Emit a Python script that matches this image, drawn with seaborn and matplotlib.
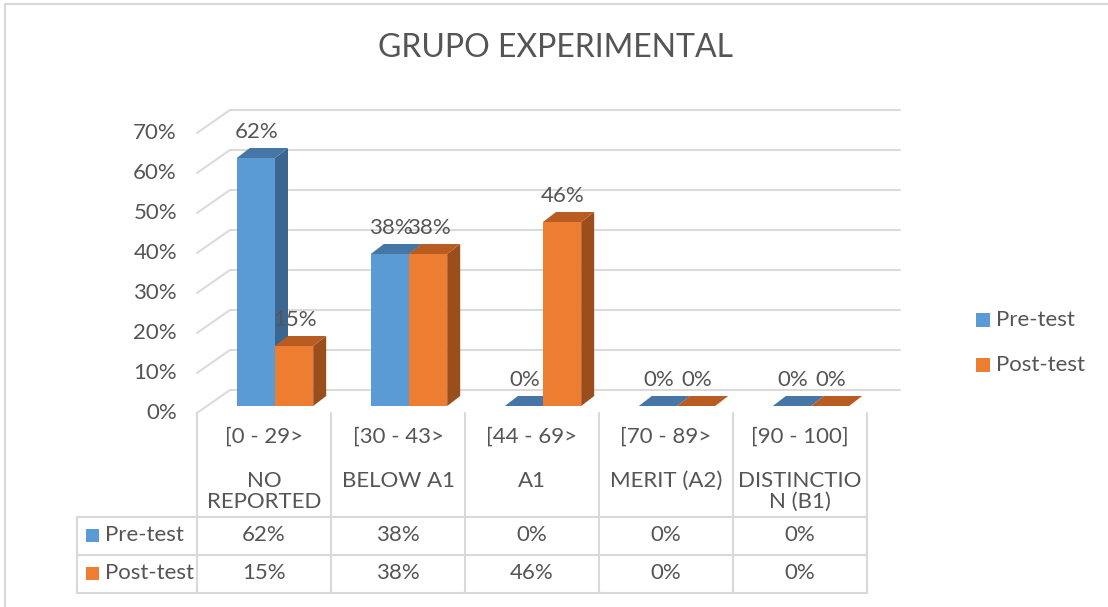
import numpy as np
import pandas as pd
import matplotlib
matplotlib.use("Agg")
import matplotlib.pyplot as plt
import seaborn as sns
from matplotlib import transforms
from matplotlib.patches import Polygon, Rectangle
from matplotlib.lines import Line2D

# ---------------- data ----------------
ranges = ["[0 - 29>", "[30 - 43>", "[44 - 69>", "[70 - 89>", "[90 - 100]"]
levels = ["NO\nREPORTED", "BELOW A1", "A1", "MERIT (A2)", "DISTINCTIO\nN (B1)"]
series = ["Pre-test", "Post-test"]
pre_test = [62, 38, 0, 0, 0]
post_test = [15, 38, 46, 0, 0]
y_ticks = [0, 10, 20, 30, 40, 50, 60, 70]
title = "GRUPO EXPERIMENTAL"

# ---------------- style ----------------
BLUE, ORANGE = "#5B9BD5", "#ED7D31"
TOP = {BLUE: "#4676A6", ORANGE: "#B95C22"}
SIDE = {BLUE: "#3A6690", ORANGE: "#9A4E1C"}
GRID = "#D9D9D9"
TXT = "#555555"

sns.set_style("white")
plt.rcParams["font.family"] = ["Lato", "DejaVu Sans"]

W, H = 1108, 607
fig = plt.figure(figsize=(W / 100, H / 100), dpi=100)


def fx(x):
    return x / W


def fy(y):
    return 1 - y / H


# front plane of bars
ax = fig.add_axes([fx(208), fy(406), 670 / W, 280 / H])
df = pd.DataFrame({
    "cat": ranges * 2,
    "series": [s for s in series for _ in ranges],
    "value": pre_test + post_test,
})
sns.barplot(data=df, x="cat", y="value", hue="series", hue_order=series,
            palette=[BLUE, ORANGE], width=0.57, dodge=True, legend=False,
            linewidth=0, saturation=1, ax=ax, zorder=3)
ax.set_xlim(-0.5, len(ranges) - 0.5)
ax.set_ylim(0, 70)
for s in ax.spines.values():
    s.set_visible(False)
ax.set_xticks([])
ax.set_yticks([])
ax.set_xlabel("")
ax.set_ylabel("")
ax.patch.set_alpha(0)

# pixel -> data conversion
ppx = 670 / (len(ranges))   # px per category
ppy = 280 / 70              # px per percent
def dxd(px):
    return px / ppx
def dyd(px):
    return px / ppy

# ---------------- walls ----------------
wf = (-11, -7)   # wall front offset (px)
wb = (22, 16)    # back wall offset (px)
x_left = -0.5
x_right = len(ranges) - 0.5
for v in y_ticks:
    ax.add_line(Line2D([x_left + dxd(wb[0]), x_right + dxd(wb[0])],
                       [v + dyd(wb[1])] * 2, color=GRID, lw=1.4,
                       zorder=1, clip_on=False))
    ax.add_line(Line2D([x_left + dxd(wf[0]), x_left + dxd(wb[0])],
                       [v + dyd(wf[1]), v + dyd(wb[1])], color=GRID, lw=1.4,
                       zorder=1, clip_on=False))
    ax.text(x_left, v, f"{v}%", ha="right", va="center", fontsize=16,
            color=TXT,
            transform=transforms.offset_copy(ax.transData, fig=fig,
                                             x=-31, y=-7, units="dots"))

# ---------------- 3D faces and labels ----------------
ddx, ddy = dxd(13), dyd(10)
bars = [p for p in ax.patches if isinstance(p, Rectangle)]
for i, p in enumerate(bars):
    x0, w, h = p.get_x(), p.get_width(), p.get_height()
    col = BLUE if i < len(ranges) else ORANGE
    z = 3 if col == BLUE else 5
    p.set_zorder(z)
    top = Polygon([(x0, h), (x0 + w, h), (x0 + w + ddx, h + ddy), (x0 + ddx, h + ddy)],
                  closed=True, facecolor=TOP[col], edgecolor="none", zorder=z + 0.5,
                  clip_on=False)
    side = Polygon([(x0 + w, 0), (x0 + w, h), (x0 + w + ddx, h + ddy), (x0 + w + ddx, ddy)],
                   closed=True, facecolor=SIDE[col], edgecolor="none", zorder=z + 0.5,
                   clip_on=False)
    ax.add_patch(side)
    ax.add_patch(top)
    ax.text(x0 + w / 2, h, f"{h:.0f}%", ha="center", va="center", fontsize=16,
            color=TXT, zorder=10,
            transform=transforms.offset_copy(ax.transData, fig=fig,
                                             x=1, y=26, units="dots"))

# ---------------- data table ----------------
tblx = transforms.offset_copy(
    transforms.blended_transform_factory(ax.transData, fig.transFigure),
    fig=fig, x=wf[0], y=0, units="dots")
for b in np.arange(len(ranges) + 1) - 0.5:
    fig.add_artist(Line2D([b, b], [fy(413), fy(593)], color=GRID, lw=1.5,
                          transform=tblx))
for yy in [517, 555, 593]:
    fig.add_artist(Line2D([fx(77), fx(208 + 670 - 11)], [fy(yy), fy(yy)],
                          color=GRID, lw=1.5, transform=fig.transFigure))
fig.add_artist(Line2D([fx(77), fx(77)], [fy(517), fy(593)], color=GRID, lw=1.5,
                      transform=fig.transFigure))

for i, (r, lv) in enumerate(zip(ranges, levels)):
    fig.text(i, fy(437), r, ha="center", va="center", fontsize=16, color=TXT,
             transform=tblx)
    fig.text(i, fy(471), lv, ha="center", va="top", fontsize=16, color=TXT,
             transform=tblx, linespacing=1.05)
    fig.text(i, fy(535), f"{pre_test[i]}%", ha="center", va="center",
             fontsize=16, color=TXT, transform=tblx)
    fig.text(i, fy(573), f"{post_test[i]}%", ha="center", va="center",
             fontsize=16, color=TXT, transform=tblx)

for s, c, yy in zip(series, [BLUE, ORANGE], [535, 573]):
    fig.add_artist(Rectangle((fx(86), fy(yy + 6.5)), 13 / W, 13 / H,
                             facecolor=c, edgecolor="none",
                             transform=fig.transFigure))
    fig.text(fx(105), fy(yy), s, ha="left", va="center", fontsize=16, color=TXT)

# ---------------- legend ----------------
for s, c, yy in zip(series, [BLUE, ORANGE], [320, 365]):
    fig.add_artist(Rectangle((fx(976), fy(yy + 7)), 14 / W, 14 / H,
                             facecolor=c, edgecolor="none",
                             transform=fig.transFigure))
    fig.text(fx(996), fy(yy), s, ha="left", va="center", fontsize=16, color=TXT)

# ---------------- title and border ----------------
fig.text(fx(556), fy(48), title, ha="center", va="center", fontsize=23,
         color=TXT)
fig.add_artist(Line2D([fx(5), fx(W)], [fy(4), fy(4)], color=GRID, lw=1.5,
                      transform=fig.transFigure))
fig.add_artist(Line2D([fx(5), fx(5)], [fy(4), fy(H)], color=GRID, lw=1.5,
                      transform=fig.transFigure))

fig.savefig("out.png", dpi=100, facecolor="white")
